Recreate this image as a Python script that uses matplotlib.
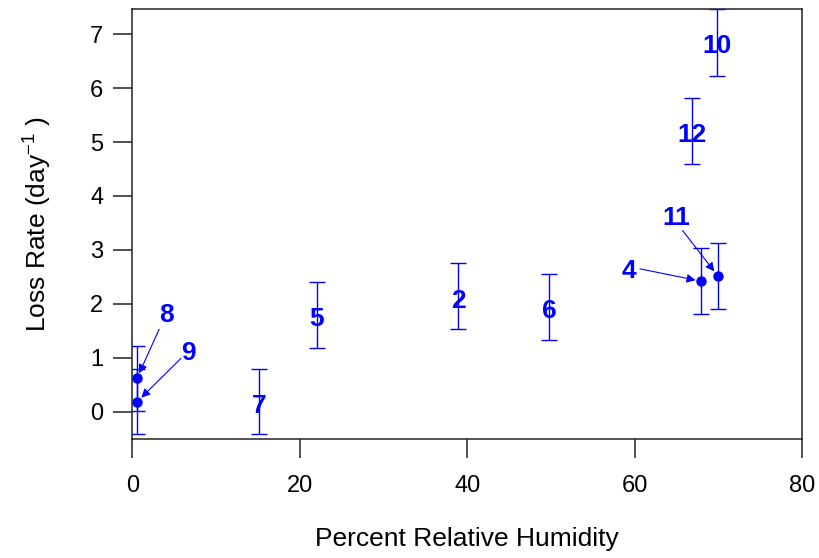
import numpy as np
import matplotlib.pyplot as plt

plt.rcParams['font.family'] = ['Liberation Sans', 'DejaVu Sans']
plt.rcParams['mathtext.fontset'] = 'custom'
plt.rcParams['mathtext.rm'] = 'Liberation Sans'

# samples: relative humidity (%), loss rate (1/day), error
ids = ['8', '9', '7', '5', '2', '6', '4', '11', '12', '10']
rh = np.array([0.55, 0.6, 15.1, 22.0, 38.9, 49.8, 67.9, 69.9, 66.8, 69.8])
rate = np.array([0.62, 0.19, 0.19, 1.80, 2.14, 1.95, 2.42, 2.52, 5.20, 6.85])
err = np.array([0.60, 0.60, 0.61, 0.61, 0.61, 0.61, 0.61, 0.61, 0.61, 0.62])
# which ones get a dot + arrow instead of a centred label
arrowed = ['8', '9', '4', '11']
# label position and arrow start for the arrowed ones
lab_pos = {'8': (4.05, 1.84), '9': (6.7, 1.15), '4': (59.3, 2.67), '11': (64.9, 3.65)}
arr_start = {'8': (3.2, 1.53), '9': (5.8, 0.99), '4': (60.6, 2.65), '11': (65.7, 3.36)}

blue = '#0000ff'

fig = plt.figure(figsize=(8.2, 5.58), dpi=100)
ax = fig.add_axes([0.1614, 0.2127, 0.8171, 0.7706])

ax.errorbar(rh, rate, yerr=err, fmt='none', ecolor=blue, elinewidth=1.0,
            capsize=6, capthick=1.0, zorder=2)

for i, lab in enumerate(ids):
    if lab in arrowed:
        ax.plot(rh[i], rate[i], 'o', color=blue, ms=6.5, zorder=3)
        ax.annotate('', xy=(rh[i], rate[i]), xytext=arr_start[lab],
                    arrowprops=dict(arrowstyle='-|>', color=blue, lw=0.8,
                                    mutation_scale=13, shrinkA=0, shrinkB=4))
        ax.annotate(lab, lab_pos[lab], xytext=(0, -2), textcoords='offset points',
                    color=blue, fontsize=19, fontweight='bold',
                    ha='center', va='center')
    else:
        ax.annotate(lab, (rh[i], rate[i]), xytext=(0, -3), textcoords='offset points',
                    color=blue, fontsize=19, fontweight='bold',
                    ha='center', va='center', zorder=4)

ax.set_xlim(0, 80)
ax.set_ylim(-0.51, 7.46)
ax.set_xticks([0, 20, 40, 60, 80])
ax.set_yticks(range(0, 8))

for s in ax.spines.values():
    s.set_linewidth(1.1)
    s.set_color('#222222')
ax.tick_params(axis='both', direction='out', length=14, width=1.1,
               labelsize=17, color='#222222')
ax.tick_params(axis='x', pad=12)
ax.tick_params(axis='y', pad=7)

ax.set_xlabel('Percent Relative Humidity', fontsize=19)
ax.set_ylabel('Loss Rate (day$^{-1}$ )', fontsize=19)
ax.xaxis.set_label_coords(0.5, -0.205)
ax.yaxis.set_label_coords(-0.118, 0.5)

fig.savefig('out.png', dpi=100)
